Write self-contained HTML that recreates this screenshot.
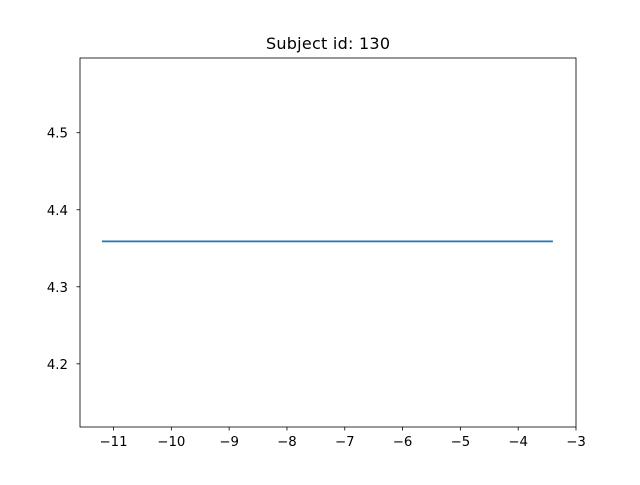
<!DOCTYPE html>
<html><head><meta charset="utf-8"><style>
body{margin:0;background:#fff;}
svg text{font-family:"DejaVu Sans","Liberation Sans",sans-serif;fill:#000;}
</style></head><body>
<svg id="chart" width="640" height="480" xmlns="http://www.w3.org/2000/svg">
<rect width="640" height="480" fill="#fff"/>
<text x="328" y="49" font-size="16" text-anchor="middle" textLength="124">Subject id: 130</text>
<g id="plot"></g>
<rect x="80" y="58" width="496" height="369" fill="none" stroke="#000" stroke-width="0.8"/>
</svg>
<script>
const xValues = [-11.2, -3.4];
const yValues = [4.359, 4.359];
const xTicks = [-11, -10, -9, -8, -7, -6, -5, -4, -3];
const yTicks = [4.2, 4.3, 4.4, 4.5];

const L = 80, R = 576, T = 58, B = 427;
const xMin = -11.58, xMax = -3.0;
const yMin = 4.118, yMax = 4.597;
const sx = v => L + (v - xMin) / (xMax - xMin) * (R - L);
const sy = v => B - (v - yMin) / (yMax - yMin) * (B - T);
const NS = "http://www.w3.org/2000/svg";
const g = document.getElementById('plot');
function mk(tag, attrs){const e=document.createElementNS(NS,tag);for(const k in attrs)e.setAttribute(k,attrs[k]);g.appendChild(e);return e;}

xTicks.forEach(t=>{
  const x=sx(t);
  const tk=mk('line',{x1:x,x2:x,y1:B,y2:B+3.5,stroke:'#000','stroke-width':0.8});
  
  
  const lb=mk('text',{x:x,y:B+19,'font-size':13.3,'text-anchor':'middle'});
  lb.textContent=(t<0?'\u2212':'')+Math.abs(t);
  
  
});
yTicks.forEach(t=>{
  const y=sy(t);
  const tk=mk('line',{x1:L-3.5,x2:L,y1:y,y2:y,stroke:'#000','stroke-width':0.8});
  
  
  const lb=mk('text',{x:L-12,y:y+5,'font-size':13.3,'text-anchor':'end'});
  lb.textContent=t.toFixed(1);
  
  
});
const pts=xValues.map((x,i)=>sx(x)+','+sy(yValues[i])).join(' ');
const line=mk('polyline',{points:pts,fill:'none',stroke:'#1f77b4','stroke-width':1.8});


</script>
</body></html>
